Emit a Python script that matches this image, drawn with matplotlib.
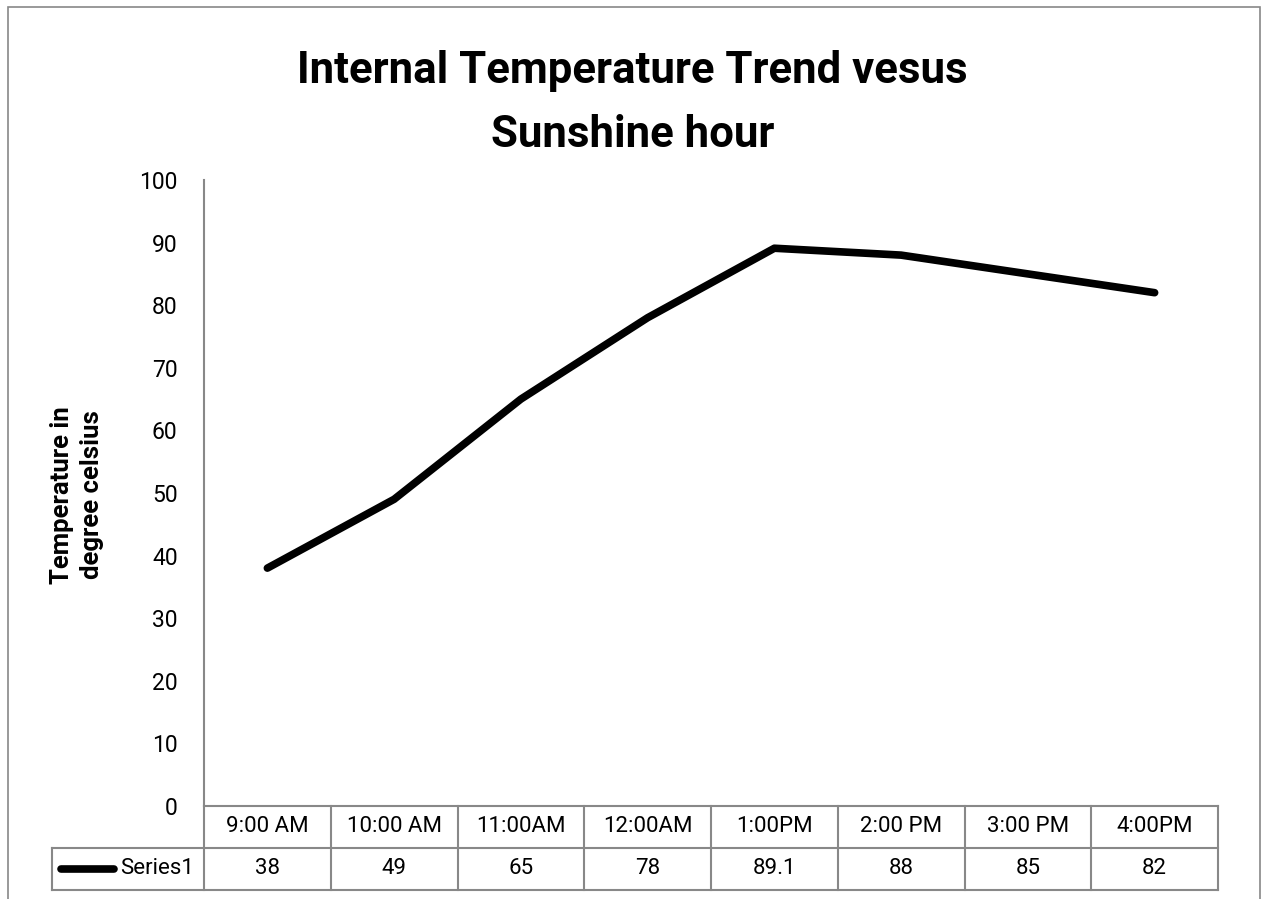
import matplotlib
matplotlib.use("Agg")
import matplotlib.pyplot as plt
from matplotlib.patches import Rectangle
from matplotlib.lines import Line2D

hours = ["9:00 AM", "10:00 AM", "11:00AM", "12:00AM", "1:00PM", "2:00 PM", "3:00 PM", "4:00PM"]
temps = [38, 49, 65, 78, 89.1, 88, 85, 82]
temp_labels = ["38", "49", "65", "78", "89.1", "88", "85", "82"]
yticks = list(range(0, 101, 10))
series_name = "Series1"
title_lines = ["Internal Temperature Trend vesus", "Sunshine hour"]

font = ["Roboto", "DejaVu Sans"]
grey = "#888888"
W, H = 1265, 899

fig = plt.figure(figsize=(W / 100, H / 100), dpi=100)
# outer chart border (runs off the bottom edge)
fig.patches.append(Rectangle((8 / W, -0.1), 1252 / W, 1.1 - 7 / H,
                             transform=fig.transFigure, fill=False,
                             edgecolor=grey, linewidth=1.2))

ax = fig.add_axes([204 / W, 1 - 806 / H, 1014 / W, 626 / H])
x = list(range(len(hours)))
ax.plot(x, temps, color="black", linewidth=5.5, solid_capstyle="round",
        solid_joinstyle="round")
ax.set_xlim(-0.5, len(hours) - 0.5)
ax.set_ylim(0, 100)
ax.set_yticks(yticks)
ax.set_yticklabels([str(v) for v in yticks], fontfamily=font, fontsize=16.5)
ax.tick_params(axis="y", length=0, pad=19)
ax.set_xticks([])
for s in ["top", "right", "bottom"]:
    ax.spines[s].set_visible(False)
ax.spines["left"].set_color(grey)
ax.spines["left"].set_linewidth(1.5)

fig.text(77 / W, 1 - 495 / H, "Temperature in\ndegree celsius", rotation=90,
         ha="center", va="center", multialignment="center", fontfamily=font,
         fontsize=18.5, fontweight="bold", linespacing=1.3)

for yb, line in zip([83, 147], title_lines):
    fig.text(0.5, 1 - yb / H, line, ha="center", va="baseline",
             fontfamily=font, fontsize=31.5, fontweight="bold")

# data table under the plot
row_h = 42 / 626
tr = ax.get_xaxis_transform()
col_px = 1014 / len(hours)
left_key = -0.5 - 152 / col_px
n = len(hours)
kw = dict(transform=tr, clip_on=False, color=grey, linewidth=1.5)
ax.add_line(Line2D([-0.5, n - 0.5], [0, 0], **kw))
ax.add_line(Line2D([left_key, n - 0.5], [-row_h, -row_h], **kw))
ax.add_line(Line2D([left_key, n - 0.5], [-2 * row_h, -2 * row_h], **kw))
ax.add_line(Line2D([left_key, left_key], [-row_h, -2 * row_h], **kw))
for i in range(n + 1):
    ax.add_line(Line2D([i - 0.5, i - 0.5], [0, -2 * row_h], **kw))

for i, (h, t) in enumerate(zip(hours, temp_labels)):
    ax.text(i, -row_h / 2, h, transform=tr, ha="center", va="center",
            fontfamily=font, fontsize=16)
    ax.text(i, -1.5 * row_h, t, transform=tr, ha="center", va="center",
            fontfamily=font, fontsize=16)

key_x0 = left_key + 9 / col_px
key_x1 = left_key + 62 / col_px
ax.add_line(Line2D([key_x0, key_x1], [-1.5 * row_h, -1.5 * row_h], transform=tr,
                   clip_on=False, color="black", linewidth=5.5,
                   solid_capstyle="round"))
ax.text(-0.5 - 10 / col_px, -1.5 * row_h, series_name, transform=tr, ha="right",
        va="center", fontfamily=font, fontsize=16)

fig.savefig("out.png", dpi=100)
